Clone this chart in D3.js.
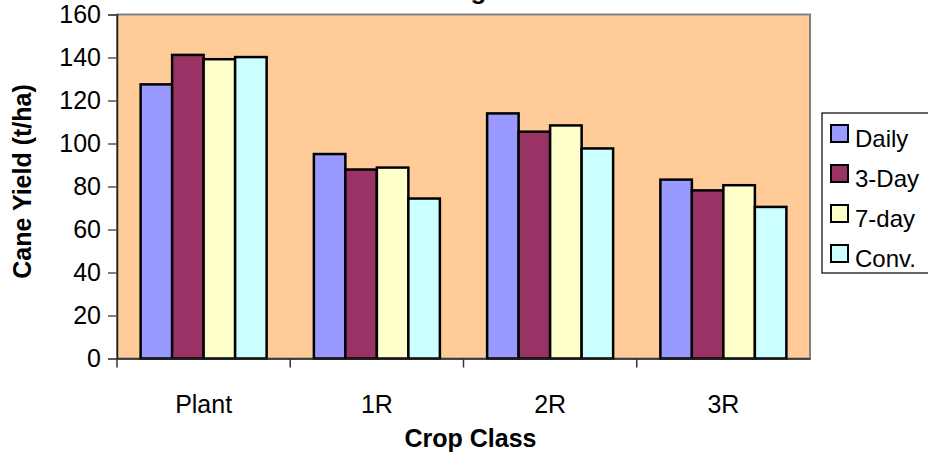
<!DOCTYPE html>
<html>
<head>
<meta charset="utf-8">
<script src="https://cdn.jsdelivr.net/npm/d3@7"></script>
<style>
  body { margin: 0; background: #fff; }
  text { font-family: "Liberation Sans", Arial, sans-serif; }
</style>
</head>
<body>
<script>
// crop classes and irrigation schedules
var cropClasses = ["Plant", "1R", "2R", "3R"];
var schedules = ["Daily", "3-Day", "7-day", "Conv."];
var daily = [127.5, 95.1, 114.0, 83.2];
var threeDay = [141.2, 87.9, 105.5, 78.2];
var sevenDay = [139.2, 88.8, 108.4, 80.6];
var conv = [140.2, 74.4, 97.7, 70.5];
var yTicks = [0, 20, 40, 60, 80, 100, 120, 140, 160];
var colors = ["#9999ff", "#993366", "#ffffcc", "#ccffff"];

var w = 928, h = 456;
var plotLeft = 117, plotRight = 810, plotTop = 14.5, plotBottom = 358.5;

var svg = d3.select("body").append("svg")
    .attr("width", w)
    .attr("height", h);

var valores = [daily, threeDay, sevenDay, conv];

var x = d3.scaleBand().domain(cropClasses).range([plotLeft, plotRight]);
var bw = x.bandwidth();
// excel style gap width 150%
var xs = d3.scaleBand().domain(schedules).range([bw * 0.75 / 5.5, bw * 4.75 / 5.5]);
var y = d3.scaleLinear().domain([0, 160]).range([plotBottom, plotTop]);

// plot area
svg.append("rect")
    .attr("x", plotLeft).attr("y", plotTop)
    .attr("width", plotRight - plotLeft).attr("height", plotBottom - plotTop)
    .style("fill", "#ffcc99")
    .style("stroke", "#808080")
    .style("stroke-width", 2);

// bars
var rows = [];
cropClasses.forEach(function (c, i) {
    schedules.forEach(function (s, j) {
        rows.push({ cat: c, ser: s, v: valores[j][i], j: j });
    });
});

svg.selectAll("rect.bar")
    .data(rows)
    .enter()
    .append("rect")
    .attr("class", "bar")
    .attr("x", function (d) { return x(d.cat) + xs(d.ser); })
    .attr("y", function (d) { return y(d.v); })
    .attr("width", xs.bandwidth())
    .attr("height", function (d) { return y(0) - y(d.v); })
    .style("fill", function (d) { return colors[d.j]; })
    .style("stroke", "#000")
    .style("stroke-width", 2.5);

// y axis
var yAxis = svg.append("g")
    .attr("transform", "translate(" + plotLeft + ",0)")
    .call(d3.axisLeft(y).tickValues(yTicks).tickSize(9).tickPadding(7));
yAxis.select(".domain").attr("stroke", "#222").attr("stroke-width", 1.5);
yAxis.selectAll(".tick line").attr("stroke", "#555").attr("stroke-width", 1.5);
yAxis.selectAll("text")
    .attr("font-size", "25px")
    .attr("fill", "#000")
    .attr("font-family", "Liberation Sans, Arial, sans-serif");

// x axis
var xAxis = svg.append("g")
    .attr("transform", "translate(0," + plotBottom + ")")
    .call(d3.axisBottom(x).tickSize(0).tickPadding(0));
xAxis.select(".domain").attr("stroke", "#222").attr("stroke-width", 1.5);
xAxis.selectAll(".tick text")
    .attr("y", 413 - plotBottom)
    .attr("dy", 0)
    .attr("font-size", "25px")
    .attr("fill", "#000")
    .attr("font-family", "Liberation Sans, Arial, sans-serif");

// category separators
svg.selectAll("line.sep")
    .data(cropClasses)
    .enter()
    .append("line")
    .attr("x1", function (d) { return x(d); })
    .attr("x2", function (d) { return x(d); })
    .attr("y1", plotBottom)
    .attr("y2", plotBottom + 9)
    .style("stroke", "#333")
    .style("stroke-width", 1.5);

// axis titles
svg.append("text")
    .text("Crop Class")
    .attr("x", (plotLeft + plotRight) / 2 + 7)
    .attr("y", 447)
    .attr("text-anchor", "middle")
    .attr("font-size", "25px")
    .attr("font-weight", "bold");

svg.append("text")
    .text("Cane Yield (t/ha)")
    .attr("transform", "translate(31," + ((plotTop + plotBottom) / 2 - 5) + ") rotate(-90)")
    .attr("text-anchor", "middle")
    .attr("font-size", "25px")
    .attr("font-weight", "bold");

// title, mostly cut off at the top
svg.append("text")
    .text("Average Yield")
    .attr("x", 484)
    .attr("y", -1)
    .attr("text-anchor", "middle")
    .attr("font-size", "26px")
    .attr("font-weight", "bold");

// legend
var lg = svg.append("g").attr("transform", "translate(822,113)");
lg.append("rect")
    .attr("width", 120).attr("height", 160)
    .style("fill", "#fff")
    .style("stroke", "#000")
    .style("stroke-width", 1.2);

var items = lg.selectAll("g.item")
    .data(schedules)
    .enter()
    .append("g")
    .attr("transform", function (d, i) { return "translate(0," + (i * 40) + ")"; });

items.append("rect")
    .attr("x", 9).attr("y", 12)
    .attr("width", 17).attr("height", 17)
    .style("fill", function (d, i) { return colors[i]; })
    .style("stroke", "#000")
    .style("stroke-width", 2);

items.append("text")
    .text(function (d) { return d; })
    .attr("x", 33)
    .attr("y", 34)
    .attr("font-size", "24px");
</script>
</body>
</html>
